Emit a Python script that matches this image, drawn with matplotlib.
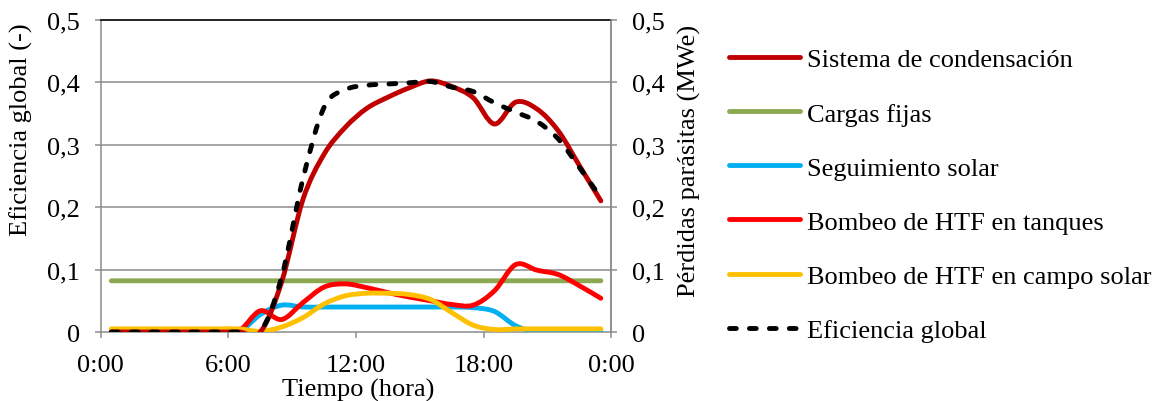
import matplotlib
matplotlib.use("Agg")
import matplotlib.pyplot as plt
from matplotlib.path import Path
from matplotlib.patches import PathPatch
from matplotlib.lines import Line2D

plt.rcParams['font.family'] = ['Liberation Serif', 'DejaVu Serif']
plt.rcParams['font.size'] = 19

# datos horarios (hora media de cada intervalo)
horas = [0.5, 1.5, 2.5, 3.5, 4.5, 5.5, 6.5, 7.5, 8.5, 9.5, 10.5, 11.5,
         12.5, 13.5, 14.5, 15.5, 16.5, 17.5, 18.5, 19.5, 20.5, 21.5, 22.5, 23.5]

condensacion = [0, 0, 0, 0, 0, 0, 0, 0, 0.080, 0.212, 0.285, 0.328,
                0.358, 0.376, 0.391, 0.402, 0.393, 0.375, 0.333, 0.368, 0.357, 0.322, 0.266, 0.210]
cargas_fijas = [0.082] * 24
seguimiento = [0, 0, 0, 0, 0, 0, 0, 0.028, 0.043, 0.040, 0.040, 0.040,
               0.040, 0.040, 0.040, 0.040, 0.040, 0.039, 0.033, 0.010, 0, 0, 0, 0]
bombeo_tanques = [0, 0, 0, 0, 0, 0, 0.002, 0.034, 0.020, 0.047, 0.072, 0.077,
                  0.071, 0.063, 0.056, 0.050, 0.044, 0.043, 0.066, 0.108, 0.099, 0.092, 0.074, 0.054]
bombeo_campo = [0.005, 0.005, 0.005, 0.005, 0.005, 0.005, 0.005, 0.001, 0.008, 0.023, 0.045, 0.058,
                0.062, 0.062, 0.060, 0.052, 0.031, 0.011, 0.004, 0.005, 0.005, 0.005, 0.005, 0.005]
eficiencia = [0, 0, 0, 0, 0, 0, 0, 0, 0.088, 0.245, 0.360, 0.388,
              0.395, 0.397, 0.399, 0.401, 0.392, 0.385, 0.367, 0.352, 0.337, 0.309, 0.263, 0.215]

nombres = ['Sistema de condensación', 'Cargas fijas', 'Seguimiento solar',
           'Bombeo de HTF en tanques', 'Bombeo de HTF en campo solar', 'Eficiencia global']
colores = ['#C00000', '#8CA851', '#00B0F0', '#FF0000', '#FFC000', '#000000']
DASH = (0, (1.4, 2.7))
LW = 3.5


def linea_suave(ax, xs, ys, color, ls='-', z=2):
    # curva suavizada tipo Excel (bezier cubica)
    pts = list(zip(xs, ys))
    n = len(pts)
    verts = [pts[0]]
    codes = [Path.MOVETO]
    for i in range(n - 1):
        p0 = pts[max(i - 1, 0)]
        p1 = pts[i]
        p2 = pts[i + 1]
        p3 = pts[min(i + 2, n - 1)]
        c1 = (p1[0] + (p2[0] - p0[0]) / 6, p1[1] + (p2[1] - p0[1]) / 6)
        c2 = (p2[0] - (p3[0] - p1[0]) / 6, p2[1] - (p3[1] - p1[1]) / 6)
        verts += [c1, c2, p2]
        codes += [Path.CURVE4] * 3
    patch = PathPatch(Path(verts, codes), fill=False, edgecolor=color, lw=LW,
                      linestyle=ls, capstyle='round', joinstyle='round', zorder=z)
    ax.add_patch(patch)


fig = plt.figure(figsize=(11.59, 4.02), dpi=100)
ax = fig.add_axes([0.0869, 0.1716, 0.4407, 0.7769])

ax.set_xlim(0, 24)
ax.set_ylim(0, 0.5)
for y in [0.1, 0.2, 0.3, 0.4]:
    ax.axhline(y, color='#8C8C8C', lw=1.1, zorder=1)

linea_suave(ax, horas, cargas_fijas, colores[1], z=2)
linea_suave(ax, horas, seguimiento, colores[2], z=3)
linea_suave(ax, horas, bombeo_tanques, colores[3], z=4)
linea_suave(ax, horas, bombeo_campo, colores[4], z=5)
linea_suave(ax, horas, condensacion, colores[0], z=6)
linea_suave(ax, horas, eficiencia, colores[5], ls=DASH, z=7)

ax.set_xticks([0, 6, 12, 18, 24])
ax.set_xticklabels(['0:00', '6:00', '12:00', '18:00', '0:00'])
yt = [0, 0.1, 0.2, 0.3, 0.4, 0.5]
ytl = ['0', '0,1', '0,2', '0,3', '0,4', '0,5']
ax.set_yticks(yt)
ax.set_yticklabels(ytl)

for s in ['left', 'bottom', 'right']:
    ax.spines[s].set_color('#8C8C8C')
    ax.spines[s].set_linewidth(1.1)
ax.spines['top'].set_color('black')
ax.spines['top'].set_linewidth(1.2)
ax.tick_params(axis='both', direction='out', length=4, width=1.1, color='#8C8C8C')
ax.tick_params(axis='y', pad=11)
ax.tick_params(axis='x', pad=12)

ax2 = ax.twinx()
ax2.set_ylim(0, 0.5)
ax2.set_yticks(yt)
ax2.set_yticklabels(ytl)
ax2.spines['right'].set_color('#8C8C8C')
ax2.spines['right'].set_linewidth(1.1)
ax2.spines['top'].set_visible(False)
ax2.spines['left'].set_visible(False)
ax2.spines['bottom'].set_visible(False)
ax2.tick_params(axis='y', direction='out', length=4, width=1.1, color='#8C8C8C', pad=11)

fig.text(21 / 1159, 1 - 130 / 402, 'Eficiencia global (-)', rotation=90, ha='center', va='center')
fig.text(689 / 1159, 1 - 161 / 402, 'Pérdidas parásitas (MWe)', rotation=90, ha='center', va='center')
fig.text(358 / 1159, 1 - 379 / 402, 'Tiempo (hora)', ha='center', va='top')

handles = []
for c in colores[:5]:
    handles.append(Line2D([], [], color=c, lw=LW, solid_capstyle='round'))
handles.append(Line2D([], [], color='black', lw=LW, linestyle=DASH, dash_capstyle='round'))
fig.legend(handles, nombres, loc='upper left', bbox_to_anchor=(729 / 1159, 1 - 49 / 402),
           frameon=False, handlelength=2.7, handletextpad=0.25, labelspacing=1.16,
           borderpad=0, borderaxespad=0)

fig.savefig('out.png', dpi=100)
